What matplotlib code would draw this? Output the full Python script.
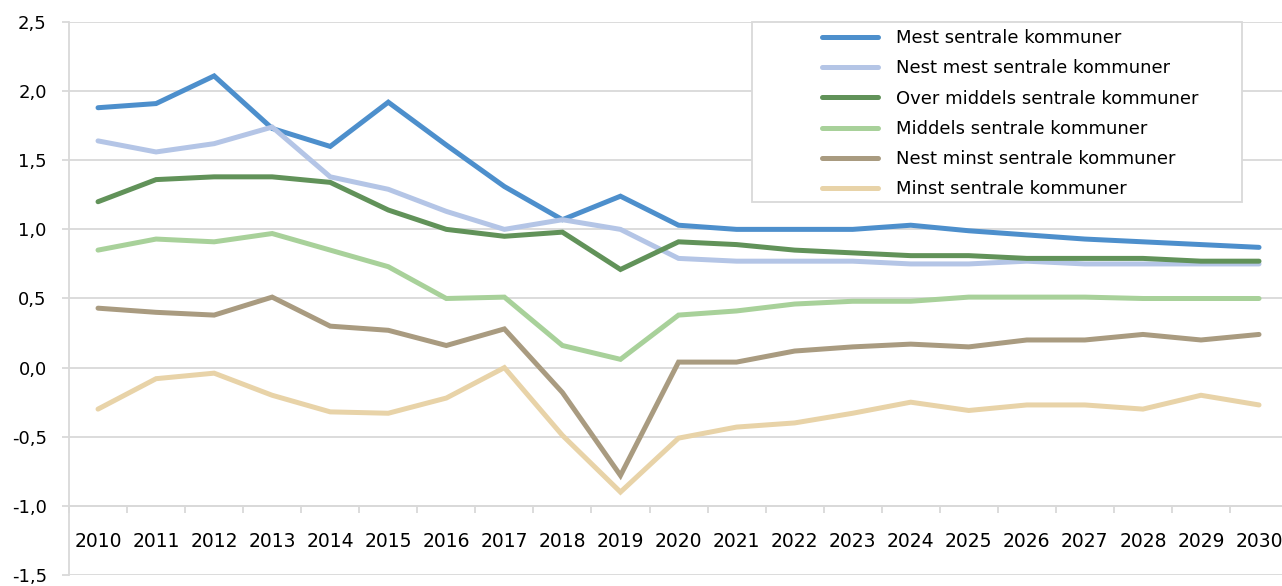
import matplotlib
matplotlib.use("Agg")
import matplotlib.pyplot as plt
from matplotlib.patches import Rectangle
from matplotlib.ticker import FuncFormatter, FixedLocator

# data
years = [str(y) for y in range(2010, 2031)]
mest = [1.88, 1.91, 2.11, 1.73, 1.60, 1.92, 1.61, 1.31, 1.07, 1.24, 1.03,
        1.00, 1.00, 1.00, 1.03, 0.99, 0.96, 0.93, 0.91, 0.89, 0.87]
nest_mest = [1.64, 1.56, 1.62, 1.74, 1.38, 1.29, 1.13, 1.00, 1.07, 1.00, 0.79,
             0.77, 0.77, 0.77, 0.75, 0.75, 0.77, 0.75, 0.75, 0.75, 0.75]
over_middels = [1.20, 1.36, 1.38, 1.38, 1.34, 1.14, 1.00, 0.95, 0.98, 0.71, 0.91,
                0.89, 0.85, 0.83, 0.81, 0.81, 0.79, 0.79, 0.79, 0.77, 0.77]
middels = [0.85, 0.93, 0.91, 0.97, 0.85, 0.73, 0.50, 0.51, 0.16, 0.06, 0.38,
           0.41, 0.46, 0.48, 0.48, 0.51, 0.51, 0.51, 0.50, 0.50, 0.50]
nest_minst = [0.43, 0.40, 0.38, 0.51, 0.30, 0.27, 0.16, 0.28, -0.18, -0.78, 0.04,
              0.04, 0.12, 0.15, 0.17, 0.15, 0.20, 0.20, 0.24, 0.20, 0.24]
minst = [-0.30, -0.08, -0.04, -0.20, -0.32, -0.33, -0.22, 0.00, -0.49, -0.90, -0.51,
         -0.43, -0.40, -0.33, -0.25, -0.31, -0.27, -0.27, -0.30, -0.20, -0.27]

labels = ["Mest sentrale kommuner", "Nest mest sentrale kommuner",
          "Over middels sentrale kommuner", "Middels sentrale kommuner",
          "Nest minst sentrale kommuner", "Minst sentrale kommuner"]
colors = ["#4d8fcc", "#b4c5e6", "#619259", "#a8d19a", "#a99b80", "#e8d3a8"]
series = [mest, nest_mest, over_middels, middels, nest_minst, minst]

W, H = 1282, 586
fig = plt.figure(figsize=(W / 100, H / 100), dpi=100)
# axes placed in pixel terms: y spine at x=69, 2.5 at y=22, -1.5 at y=575
ax = fig.add_axes([69 / W, (H - 575) / H, 21 * 58.05 / W, (575 - 22) / H])

x = list(range(len(years)))
handles = []
for vals, c, lab in zip(series, colors, labels):
    h, = ax.plot(x, vals, color=c, lw=3.6, solid_capstyle="round",
                 solid_joinstyle="miter", label=lab, zorder=3)
    handles.append(h)

ax.set_xlim(-0.5, 20.5)
ax.set_ylim(-1.5, 2.5)
ax.set_yticks([-1.5, -1.0, -0.5, 0.0, 0.5, 1.0, 1.5, 2.0, 2.5])
ax.yaxis.set_major_formatter(FuncFormatter(lambda v, p: f"{v:.1f}".replace(".", ",")))
ax.grid(axis="y", color="#d9d9d9", lw=1.3, zorder=0)
ax.tick_params(axis="y", length=5, width=1.3, color="#d9d9d9", pad=11,
               labelsize=13, labelcolor="black")

# category axis sitting at -1,0
ax.spines["bottom"].set_position(("data", -1.0))
ax.spines["bottom"].set_color("#d9d9d9")
ax.spines["bottom"].set_linewidth(1.3)
ax.spines["left"].set_color("#d9d9d9")
ax.spines["left"].set_linewidth(1.3)
ax.spines["top"].set_visible(False)
ax.spines["right"].set_visible(False)
ax.xaxis.set_major_locator(FixedLocator([i - 0.5 for i in range(len(years) + 1)]))
ax.xaxis.set_major_formatter(FuncFormatter(lambda v, p: ""))
ax.xaxis.set_minor_locator(FixedLocator(x))
ax.set_xticklabels(years, minor=True)
ax.tick_params(axis="x", which="major", length=5, width=1.3, color="#d9d9d9")
ax.tick_params(axis="x", which="minor", length=0, pad=19, labelsize=13.5)

# legend frame drawn as a figure patch
fig.patches.append(Rectangle((752 / W, (H - 202) / H), 490 / W, 180 / H,
                             transform=fig.transFigure, facecolor="white",
                             edgecolor="#d9d9d9", lw=1.3, zorder=5))
leg = fig.legend(handles=handles, loc="upper left",
                 bbox_to_anchor=(813 / W, (H - 20) / H), frameon=False,
                 fontsize=13, handlelength=3.1, handletextpad=1.0,
                 labelspacing=0.68, borderpad=0.0)
leg.set_zorder(6)

fig.savefig("out.png", dpi=100)
